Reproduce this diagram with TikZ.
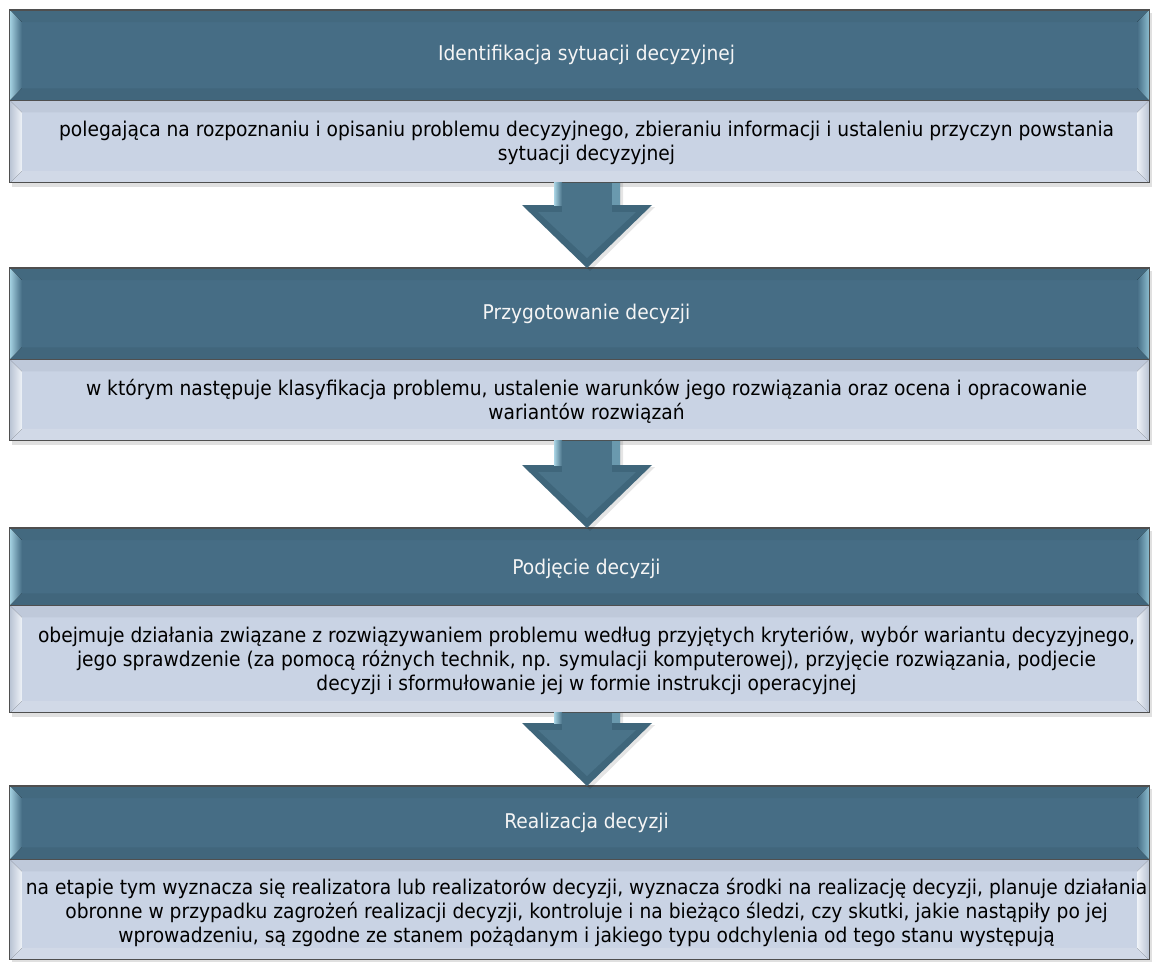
\documentclass[tikz,border=0pt]{standalone}
\usepackage{fontspec}
\setmainfont{DejaVu Sans}[FakeStretch=0.92]
\usetikzlibrary{calc}
\pgfdeclarelayer{background}
\pgfsetlayers{background,main}

\definecolor{hdrbase}{HTML}{466D85}
\definecolor{hdrtop}{HTML}{43697F}
\definecolor{hdrbot}{HTML}{41667C}
\definecolor{hdrlight}{HTML}{A5D2E2}
\definecolor{hdrright}{HTML}{8CBDD0}
\definecolor{bodybase}{HTML}{C9D3E4}
\definecolor{bodytop}{HTML}{BFC9DA}
\definecolor{bodybot}{HTML}{D1D9E7}
\definecolor{bodyedge}{HTML}{B9C3D3}
\definecolor{bodylight}{HTML}{EEF2F7}
\definecolor{frame}{HTML}{4F4F4F}
\definecolor{arrowedge}{HTML}{3F667B}
\definecolor{arrowmain}{HTML}{4A7389}
\definecolor{arrowlight}{HTML}{A9D4E4}
\definecolor{arrowside}{HTML}{6A99AE}

% bevelled panel behind a node: #1 node, #2 inset, #3 base, #4 top, #5 left, #6 right, #7 bottom
\newcommand\bevelpanel[7]{%
  \fill[#3] (#1.north west) rectangle (#1.south east);
  \fill[#4] (#1.north west) -- (#1.north east) -- ($(#1.north east)+(-#2,#2)$) -- ($(#1.north west)+(#2,#2)$) -- cycle;
  \fill[#7] (#1.south west) -- (#1.south east) -- ($(#1.south east)+(-#2,-#2)$) -- ($(#1.south west)+(#2,-#2)$) -- cycle;
  \fill[#5] (#1.north west) -- ($(#1.north west)+(#2,#2)$) -- ($(#1.south west)+(#2,-#2)$) -- (#1.south west) -- cycle;
  \fill[#6] (#1.north east) -- ($(#1.north east)+(-#2,#2)$) -- ($(#1.south east)+(-#2,-#2)$) -- (#1.south east) -- cycle;
}

% whole stage box: header panel #1 over body panel #2
\newcommand\stagebox[2]{%
  \fill[black,opacity=0.12] ($(#1.north west)+(2,3)$) rectangle ($(#2.south east)+(3,4)$);
  \bevelpanel{#1}{12}{hdrbase}{hdrtop}{left color=hdrlight,right color=hdrbase}{left color=hdrbase,right color=hdrright}{hdrbot}
  \bevelpanel{#2}{12}{bodybase}{bodytop}{left color=bodyedge,right color=bodylight}{left color=bodylight,right color=bodyedge}{bodybot}
  \draw[frame,line width=1.2pt] (#1.north west) rectangle (#2.south east);
  \draw[frame,line width=1pt] (#1.south west) -- (#1.south east);
}

% bevelled block arrow from shaft top #1 to tip #2
\newcommand\flowarrow[2]{%
  \fill[black,opacity=0.10] ($(#1)+(-31,0)$) -- ($(#2)+(-31,-61)$) -- ($(#2)+(-63,-61)$) -- ($(#2)+(3,3)$) -- ($(#2)+(68,-61)$) -- ($(#2)+(36,-61)$) -- ($(#1)+(36,0)$) -- cycle;
  \fill[arrowedge] ($(#1)+(-33,0)$) -- ($(#2)+(-33,-63)$) -- ($(#2)+(-65,-63)$) -- (#2) -- ($(#2)+(65,-63)$) -- ($(#2)+(33,-63)$) -- ($(#1)+(33,0)$) -- cycle;
  \fill[arrowmain] ($(#2)+(-49,-56)$) -- ($(#2)+(49,-56)$) -- ($(#2)+(0,-10)$) -- cycle;
  \fill[arrowmain] ($(#1)+(-25,0)$) rectangle ($(#2)+(25,-56)$);
  \shade[left color=arrowlight,right color=arrowmain] ($(#1)+(-33,0)$) rectangle ($(#2)+(-25,-63)$);
  \fill[arrowside] ($(#1)+(25,0)$) rectangle ($(#2)+(33,-63)$);
}

\tikzset{
  panel/.style={rectangle,inner sep=0pt,minimum width=1139pt,anchor=north},
  hdrtext/.style={inner sep=0pt,text=white!96!black,font=\fontsize{20.3}{24}\selectfont},
  bodytext/.style={inner sep=0pt,align=center,text=black,font=\fontsize{20.3}{24}\selectfont},
}

\begin{document}
\begin{tikzpicture}[x=1pt,y=-1pt]
\useasboundingbox (0,0) rectangle (1156,961);
\begin{pgfonlayer}{background}
  \fill[white] (0,0) rectangle (1156,961);
\end{pgfonlayer}

% stage panels
\node[panel,minimum height=90pt] (h1) at (579.5,10) {};
\node[panel,minimum height=82pt] (b1) at (h1.south) {};
\node[panel,minimum height=91pt] (h2) at (579.5,268) {};
\node[panel,minimum height=81pt] (b2) at (h2.south) {};
\node[panel,minimum height=77pt] (h3) at (579.5,528) {};
\node[panel,minimum height=107pt] (b3) at (h3.south) {};
\node[panel,minimum height=73pt] (h4) at (579.5,786) {};
\node[panel,minimum height=100pt] (b4) at (h4.south) {};

\begin{pgfonlayer}{background}
  \stagebox{h1}{b1}
  \stagebox{h2}{b2}
  \stagebox{h3}{b3}
  \stagebox{h4}{b4}
\end{pgfonlayer}

% stage texts
\node[hdrtext] (h1t) at ($(h1.center)+(7,0)$) {Identifikacja sytuacji decyzyjnej};
\node[bodytext] (b1t) at ($(b1.center)+(7,1)$) {polegająca na rozpoznaniu i opisaniu problemu decyzyjnego, zbieraniu informacji i ustaleniu przyczyn powstania\\sytuacji decyzyjnej};

\node[hdrtext] (h2t) at ($(h2.center)+(7,0)$) {Przygotowanie decyzji};
\node[bodytext] (b2t) at ($(b2.center)+(7,1)$) {w którym następuje klasyfikacja problemu, ustalenie warunków jego rozwiązania oraz ocena i opracowanie\\wariantów rozwiązań};

\node[hdrtext] (h3t) at ($(h3.center)+(7,2)$) {Podjęcie decyzji};
\node[bodytext] (b3t) at ($(b3.center)+(7,1)$) {obejmuje działania związane z rozwiązywaniem problemu według przyjętych kryteriów, wybór wariantu decyzyjnego,\\jego sprawdzenie (za pomocą różnych technik, np. symulacji komputerowej), przyjęcie rozwiązania, podjecie\\decyzji i sformułowanie jej w formie instrukcji operacyjnej};

\node[hdrtext] (h4t) at ($(h4.center)+(7,0)$) {Realizacja decyzji};
\node[bodytext] (b4t) at ($(b4.center)+(7,3)$) {na etapie tym wyznacza się realizatora lub realizatorów decyzji, wyznacza środki na realizację decyzji, planuje działania\\obronne w przypadku zagrożeń realizacji decyzji, kontroluje i na bieżąco śledzi, czy skutki, jakie nastąpiły po jej\\wprowadzeniu, są zgodne ze stanem pożądanym i jakiego typu odchylenia od tego stanu występują};

% connectors between stages
\coordinate (s1) at ($(b1.south)+(7.5,0)$);
\coordinate (t1) at ($(h2.north)+(7.5,0)$);
\coordinate (s2) at ($(b2.south)+(7.5,0)$);
\coordinate (t2) at ($(h3.north)+(7.5,0)$);
\coordinate (s3) at ($(b3.south)+(7.5,0)$);
\coordinate (t3) at ($(h4.north)+(7.5,0)$);
\flowarrow{s1}{t1}
\flowarrow{s2}{t2}
\flowarrow{s3}{t3}
\end{tikzpicture}
\end{document}
